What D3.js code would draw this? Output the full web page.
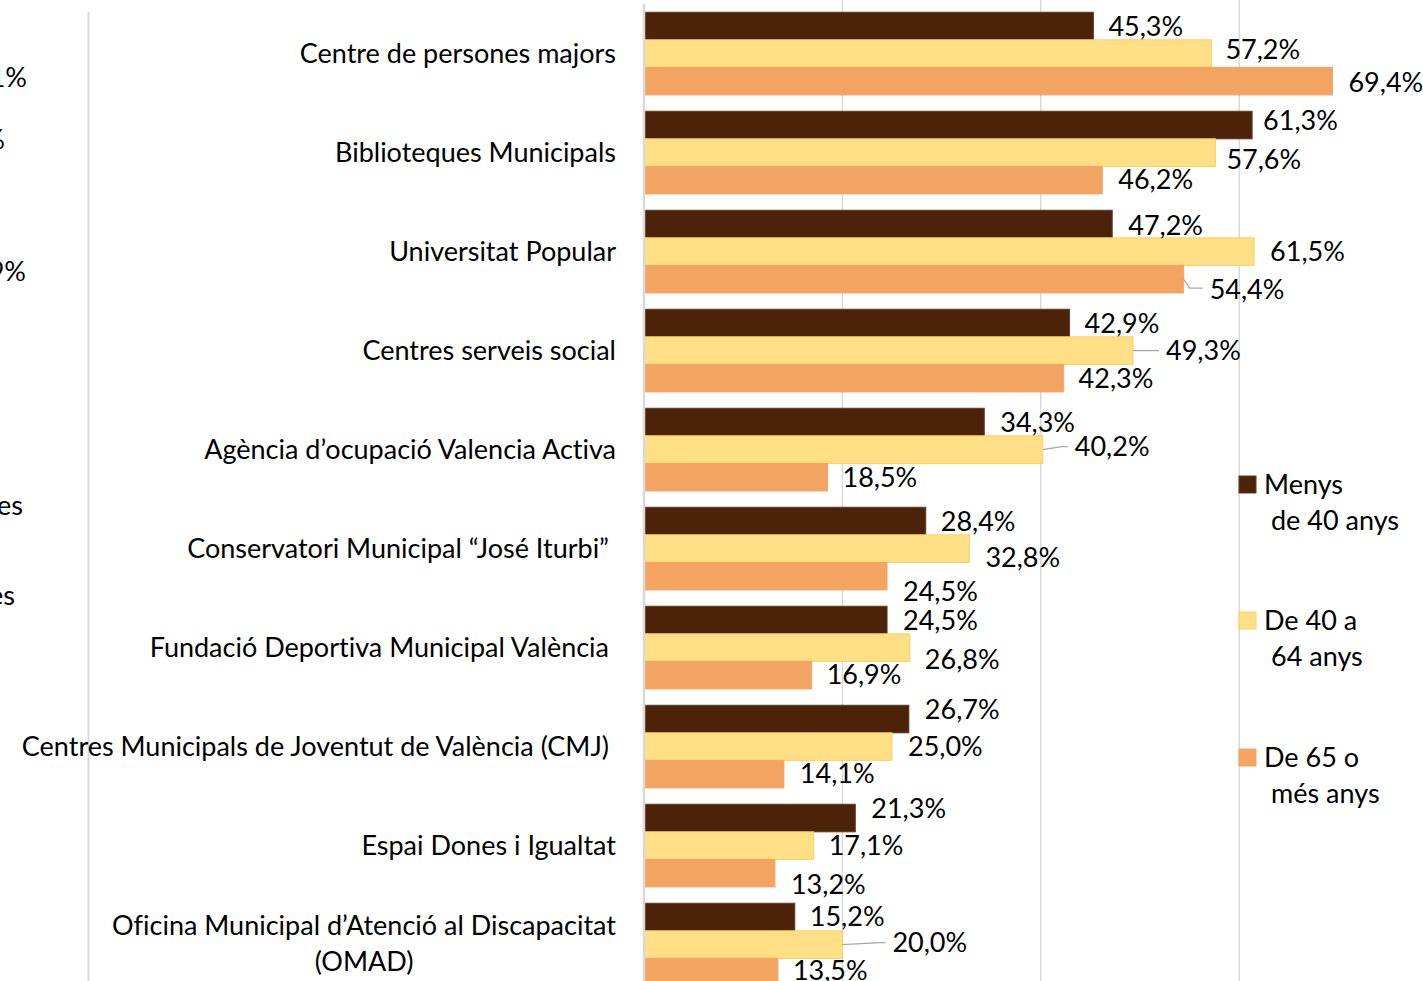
<!DOCTYPE html>
<html>
<head>
<meta charset="utf-8">
<script src="https://cdn.jsdelivr.net/npm/d3@7"></script>
<style>
  html, body { margin: 0; padding: 0; background: #fff; }
  svg { display: block; font-family: Lato, "Noto Sans", sans-serif; font-variant-ligatures: none; }
</style>
</head>
<body>
<div id="chart"></div>
<script>
// categories (top to bottom)
const categories = [
    "Centre de persones majors",
    "Biblioteques Municipals",
    "Universitat Popular",
    "Centres serveis social",
    "Agència d’ocupació Valencia Activa",
    "Conservatori Municipal “José Iturbi”",
    "Fundació Deportiva Municipal València",
    "Centres Municipals de Joventut de València (CMJ)",
    "Espai Dones i Igualtat",
    "Oficina Municipal d’Atenció al Discapacitat (OMAD)"
];

// series values (%)
const under40 = [45.3, 61.3, 47.2, 42.9, 34.3, 28.4, 24.5, 26.7, 21.3, 15.2];
const from40to64 = [57.2, 57.6, 61.5, 49.3, 40.2, 32.8, 26.8, 25.0, 17.1, 20.0];
const over65 = [69.4, 46.2, 54.4, 42.3, 18.5, 24.5, 16.9, 14.1, 13.2, 13.5];

const seriesNames = [["Menys", "de 40 anys"], ["De 40 a", "64 anys"], ["De 65 o", "més anys"]];
const gridTicks = [20, 40, 60];

// fragments of the neighbouring chart cut off at the left edge
const leftFragments = ["41%", "5%", "49%", "tes", "tes"];

const width = 1423, height = 981;
const fontSize = '27px';
const colors = ["#4C2209", "#FEDF86", "#F4A462"];
const strokes = ["#5E3A22", "#F9D25C", "#F4A462"];

// right edge of each category label
const catRight = [616, 616, 616, 616, 616, 609, 609, 609, 616, 616];

// label nudges from the default position (dx from bar end, dy from bar centre)
const labelNudge = [
    [[15, 1], [14, -4], [16, 1]],
    [[11, -4], [11, 7], [16, -1]],
    [[16, 2], [16, 0], [26, 10]],
    [[15, 1], [33, 0], [15, 0]],
    [[16, 1], [32, -3], [15, 0]],
    [[15, 1], [16, 9], [16, 15]],
    [[16, 1], [15, 12], [15, -1]],
    [[16, -9], [16, 0], [16, -1]],
    [[16, -9], [15, 0], [16, 11]],
    [[15, 0], [50, -2], [15, -2]]
];

const series = [under40, from40to64, over65];
const rows = categories.map((c, i) => ({ name: c, values: series.map(s => s[i]), right: catRight[i] }));

const svg = d3.select('#chart')
    .append('svg')
    .attr('width', width)
    .attr('height', height);

const x = d3.scaleLinear().domain([0, 80]).range([644, 644 + 793.6]);
const y = d3.scaleBand().domain(categories).range([4.1, 994.1]).paddingInner(0.165).paddingOuter(0.0825);
const ySub = d3.scaleBand().domain([0, 1, 2]).range([0, y.bandwidth()]);

const fmt = d3.formatLocale({ decimal: ",", thousands: ".", grouping: [3], currency: ["", "€"] }).format(".1f");

// left panel divider
svg.append('line')
    .attr('x1', 88.5).attr('x2', 88.5)
    .attr('y1', 12).attr('y2', height)
    .style('stroke', '#D9D9D9')
    .style('stroke-width', '2px');

// cut-off labels from the chart on the left
const fragY = [78, 140, 272, 506, 596];
const fragX = [27, 5, 26, 23, 15];
svg.append('g').selectAll('text')
    .data(leftFragments)
    .join('text')
    .attr('x', (d, i) => fragX[i])
    .attr('y', (d, i) => fragY[i])
    .attr('dy', '0.35em')
    .attr('text-anchor', 'end')
    .style('font-size', fontSize)
    .style('fill', '#000')
    .text(d => d);

// gridlines
svg.append('g')
    .selectAll('line')
    .data(gridTicks)
    .join('line')
    .attr('x1', d => x(d)).attr('x2', d => x(d))
    .attr('y1', 0).attr('y2', height)
    .style('stroke', '#D9D9D9')
    .style('stroke-width', '1.5px');

// bars
const groups = svg.append('g')
    .selectAll('g')
    .data(rows)
    .join('g')
    .attr('transform', d => `translate(0, ${y(d.name)})`);

groups.selectAll('rect')
    .data(d => d.values)
    .join('rect')
    .attr('x', x(0))
    .attr('y', (d, j) => ySub(j))
    .attr('width', d => x(d) - x(0))
    .attr('height', ySub.bandwidth())
    .style('fill', (d, j) => colors[j])
    .style('stroke', (d, j) => strokes[j])
    .style('stroke-width', '1px');

// value axis line
svg.append('line')
    .attr('x1', x(0)).attr('x2', x(0))
    .attr('y1', 4).attr('y2', height)
    .style('stroke', '#D9D9D9')
    .style('stroke-width', '2.5px');

// data labels (+ leader lines where the label was moved away)
rows.forEach((row, i) => {
    row.values.forEach((v, j) => {
        const [dx, dy] = labelNudge[i][j];
        const bx = x(v);
        const by = y(row.name) + ySub(j) + ySub.bandwidth() / 2;
        if (dx > 20) {
            const lx = bx + dx - 7;
            const pts = dy > 5
                ? [[bx, by], [bx + 6, by + dy - 1], [lx, by + dy - 1]]
                : [[bx, by], [lx - 6, by + dy], [lx, by + dy]];
            svg.append('path')
                .attr('d', d3.line()(pts))
                .style('fill', 'none')
                .style('stroke', '#A6A6A6')
                .style('stroke-width', '1.2px');
        }
        svg.append('text')
            .attr('x', bx + dx)
            .attr('y', by + dy)
            .attr('dy', '0.35em')
            .style('font-size', fontSize)
            .style('fill', '#000')
            .text(fmt(v) + '%');
    });
});

// category labels
const catLabels = svg.append('g')
    .selectAll('text')
    .data(rows)
    .join('text')
    .attr('x', d => d.right)
    .attr('y', d => y(d.name) + y.bandwidth() / 2)
    .attr('text-anchor', 'end')
    .style('font-size', fontSize)
    .style('fill', '#000');

catLabels.each(function (d) {
    const t = d3.select(this);
    if (d.name.length > 48) {
        // wrap long label on two lines, second line centred under the first
        const cut = d.name.lastIndexOf(' ');
        const first = d.name.slice(0, cut), second = d.name.slice(cut + 1);
        t.append('tspan').attr('x', d.right).attr('dy', '-0.37em').text(first);
        const w = this.getComputedTextLength();
        t.append('tspan')
            .attr('x', d.right - w / 2)
            .attr('text-anchor', 'middle')
            .attr('dy', '1.33em')
            .text(second);
    } else {
        t.attr('dy', '0.35em').text(d.name);
    }
});

// legend
const legend = svg.append('g')
    .attr('transform', 'translate(1239, 476)');

const legendY = [0, 136, 273];
seriesNames.forEach((lines, j) => {
    const item = legend.append('g')
        .attr('transform', `translate(0, ${legendY[j]})`);
    item.append('rect')
        .attr('width', 17)
        .attr('height', 17)
        .style('fill', colors[j])
        .style('stroke', strokes[j]);
    item.append('text')
        .attr('x', 25)
        .attr('y', 8.5)
        .attr('dy', '0.35em')
        .style('font-size', fontSize)
        .text(lines[0]);
    item.append('text')
        .attr('x', 32)
        .attr('y', 44.5)
        .attr('dy', '0.35em')
        .style('font-size', fontSize)
        .text(lines[1]);
});
</script>
</body>
</html>
